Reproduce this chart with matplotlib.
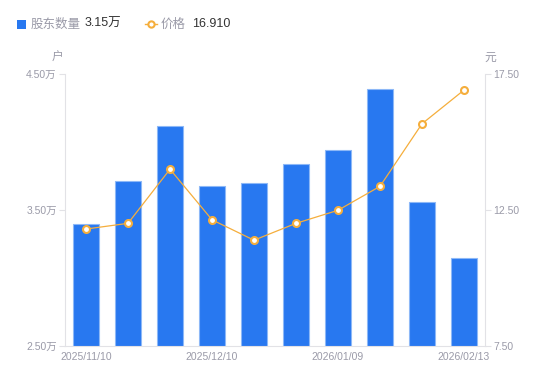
import matplotlib
matplotlib.use("Agg")
import matplotlib.pyplot as plt
from matplotlib.patches import Rectangle
from matplotlib.lines import Line2D

plt.rcParams['font.family'] = ['Liberation Sans', 'Noto Sans CJK SC', 'DejaVu Sans']

# 数据
dates = ["2025/11/10", "2025/11/20", "2025/11/30", "2025/12/10", "2025/12/19",
         "2025/12/31", "2026/01/09", "2026/01/20", "2026/01/30", "2026/02/13"]
holders = [3.40, 3.71, 4.12, 3.68, 3.70, 3.84, 3.94, 4.39, 3.56, 3.15]  # 万户
price = [11.80, 12.01, 14.00, 12.14, 11.39, 12.01, 12.49, 13.37, 15.67, 16.91]  # 元
tick_idx = [0, 3, 6, 9]

W, H = 550, 381
blue = "#2878F0"
orange = "#F5AE3C"
gray_txt = "#9a9aa8"
axis_col = "#e2e2e6"
cjk = ['Noto Sans CJK SC', 'DejaVu Sans']

fig = plt.figure(figsize=(W / 100, H / 100), dpi=100)
ax = fig.add_axes([65 / W, 1 - 346 / H, 420 / W, 272 / H])
ax2 = ax.twinx()

x = list(range(len(dates)))
ax.bar(x, holders, width=0.6, bottom=0, color=blue, edgecolor="#8db8f7", linewidth=0.8, zorder=2)
ax.set_ylim(2.5, 4.5)
ax.set_xlim(-0.5, len(dates) - 0.5)
ax.set_yticks([2.5, 3.5, 4.5])
ax.set_yticklabels(["2.50万", "3.50万", "4.50万"])
ax.set_xticks(tick_idx)
ax.set_xticklabels([dates[i] for i in tick_idx])

ax2.plot(x, price, color=orange, linewidth=0.9, marker="o", markersize=5,
         markerfacecolor="white", markeredgecolor=orange, markeredgewidth=1.5, zorder=3)
ax2.set_ylim(7.5, 17.5)
ax2.set_yticks([7.5, 12.5, 17.5])
ax2.set_yticklabels(["7.50", "12.50", "17.50"])

for a in (ax, ax2):
    for s in a.spines.values():
        s.set_visible(False)
    a.tick_params(colors=axis_col, labelcolor=gray_txt, labelsize=7.5, length=4, width=0.8)
ax.spines['left'].set_visible(True)
ax.spines['left'].set_color(axis_col)
ax.spines['bottom'].set_visible(True)
ax.spines['bottom'].set_color(axis_col)
ax2.spines['right'].set_visible(True)
ax2.spines['right'].set_color(axis_col)
ax.tick_params(axis='x', length=0, pad=4)
ax.tick_params(axis='y', pad=2)
ax2.tick_params(axis='y', pad=2)

# 单位
fig.text(58 / W, 1 - 57 / H, "户", color=gray_txt, fontsize=8.5, ha="center", va="center", family=cjk)
fig.text(490 / W, 1 - 57 / H, "元", color=gray_txt, fontsize=8.5, ha="center", va="center", family=cjk)

# 图例
fig.add_artist(Rectangle((17 / W, 1 - 29 / H), 9 / W, 9 / H, transform=fig.transFigure,
                         facecolor=blue, edgecolor="none"))
fig.text(31 / W, 1 - 24 / H, "股东数量", color=gray_txt, fontsize=9, va="center", family=cjk)
fig.text(85 / W, 1 - 24 / H, "3.15万", color="#333333", fontsize=9, va="center")
fig.add_artist(Line2D([145 / W, 157 / W], [1 - 24 / H, 1 - 24 / H], transform=fig.transFigure,
                      color=orange, linewidth=1))
fig.add_artist(Line2D([151 / W], [1 - 24 / H], transform=fig.transFigure, marker="o",
                      markersize=4.5, markerfacecolor="white", markeredgecolor=orange,
                      markeredgewidth=1.5))
fig.text(161 / W, 1 - 24 / H, "价格", color=gray_txt, fontsize=9, va="center", family=cjk)
fig.text(192 / W, 1 - 24 / H, "16.910", color="#333333", fontsize=9, va="center")

fig.savefig("out.png", dpi=100)
